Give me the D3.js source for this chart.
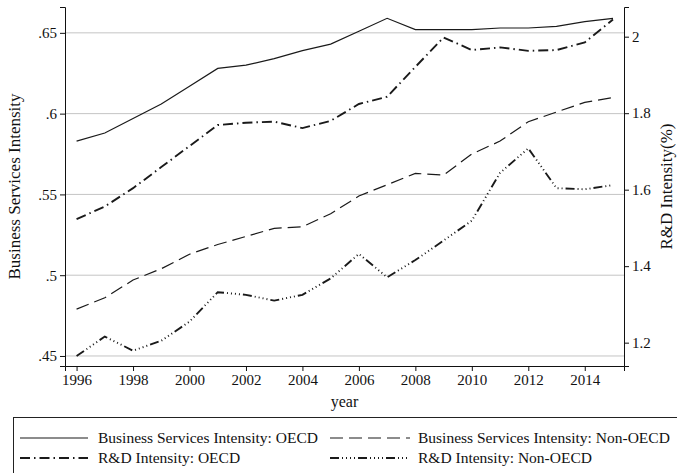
<!DOCTYPE html>
<html>
<head>
<meta charset="utf-8">
<script src="https://cdn.jsdelivr.net/npm/d3@7"></script>
<style>
  body { margin: 0; background: #fff; }
  svg { display: block; }
  .axis path, .axis line { stroke: #111; }
  .axis text { font-size: 15px; fill: #111; }
</style>
</head>
<body>
<div id="chart"></div>
<script>
const years = [1996, 1997, 1998, 1999, 2000, 2001, 2002, 2003, 2004, 2005,
  2006, 2007, 2008, 2009, 2010, 2011, 2012, 2013, 2014, 2015];
const bsOecd = [.583, .588, .597, .606, .617, .628, .630, .634, .639, .643,
  .651, .659, .652, .652, .652, .653, .653, .654, .657, .659];
const bsNonOecd = [.479, .486, .497, .504, .513, .519, .524, .529, .530, .538,
  .549, .556, .563, .562, .575, .583, .595, .601, .607, .610];
const rdOecd = [1.523, 1.556, 1.604, 1.659, 1.714, 1.769, 1.775, 1.778, 1.761, 1.780,
  1.824, 1.843, 1.921, 1.998, 1.965, 1.972, 1.963, 1.965, 1.985, 2.045];
const rdNonOecd = [1.165, 1.216, 1.179, 1.205, 1.255, 1.332, 1.325, 1.310, 1.325, 1.368,
  1.432, 1.371, 1.416, 1.467, 1.519, 1.644, 1.708, 1.604, 1.601, 1.612];
const xTicks = [1996, 1998, 2000, 2002, 2004, 2006, 2008, 2010, 2012, 2014];
const leftTicks = [.45, .5, .55, .6, .65];
const rightTicks = [1.2, 1.4, 1.6, 1.8, 2];

const series = [
  { name: "Business Services Intensity: OECD", values: bsOecd, axis: "left", dash: null, width: 1.2 },
  { name: "Business Services Intensity: Non-OECD", values: bsNonOecd, axis: "left", dash: "13,6", width: 1.2 },
  { name: "R&D Intensity: OECD", values: rdOecd, axis: "right", dash: "10,4,1.5,4", width: 1.9 },
  { name: "R&D Intensity: Non-OECD", values: rdNonOecd, axis: "right", dash: "9,3,1,3,1,3,1,3,1,3", width: 1.9 }
];

const FONT = "'Liberation Serif', 'Times New Roman', serif";
const W = 677, H = 473;
const m = { left: 65, right: 624, top: 7, bottom: 366 };

const svg = d3.select("#chart").append("svg")
  .attr("width", W).attr("height", H)
  .attr("font-family", FONT);

const x = d3.scaleLinear().domain([1995.59, 2015.39]).range([m.left, m.right]);
const yL = d3.scaleLinear().domain([.4438, .666]).range([m.bottom, m.top]);
const yR = d3.scaleLinear().domain([1.139, 2.0776]).range([m.bottom, m.top]);

// gridlines
svg.append("g")
  .selectAll("line")
  .data(leftTicks)
  .enter()
  .append("line")
  .attr("x1", m.left).attr("x2", m.right)
  .attr("y1", d => yL(d)).attr("y2", d => yL(d))
  .attr("stroke", "#c4c4c4").attr("stroke-width", 1);

// axes
svg.append("g").attr("class", "axis")
  .attr("transform", `translate(${m.left},0)`)
  .call(d3.axisLeft(yL).tickValues(leftTicks).tickSizeOuter(0).tickSize(5).tickPadding(3)
    .tickFormat(d => String(d).replace(/^0/, "")))
  .attr("font-family", FONT);

svg.append("g").attr("class", "axis")
  .attr("transform", `translate(${m.right},0)`)
  .call(d3.axisRight(yR).tickValues(rightTicks).tickSizeOuter(0).tickSize(5).tickPadding(3)
    .tickFormat(d => String(d)))
  .attr("font-family", FONT);

svg.append("g").attr("class", "axis")
  .attr("transform", `translate(0,${m.bottom})`)
  .call(d3.axisBottom(x).tickValues(xTicks).tickSizeOuter(0).tickSize(5).tickPadding(3)
    .tickFormat(d3.format("d")))
  .attr("font-family", FONT);

// titles
svg.append("text")
  .attr("transform", `translate(20,${(m.top + m.bottom) / 2}) rotate(-90)`)
  .attr("text-anchor", "middle")
  .attr("font-size", 17).attr("fill", "#111")
  .text("Business Services Intensity");

svg.append("text")
  .attr("transform", `translate(672,${(m.top + m.bottom) / 2}) rotate(-90)`)
  .attr("text-anchor", "middle")
  .attr("font-size", 17).attr("fill", "#111")
  .text("R&D Intensity(%)");

svg.append("text")
  .attr("x", (m.left + m.right) / 2).attr("y", 407)
  .attr("text-anchor", "middle")
  .attr("font-size", 16).attr("fill", "#111")
  .text("year");

// lines
series.forEach(s => {
  const ys = s.axis === "left" ? yL : yR;
  const line = d3.line()
    .x((d, i) => x(years[i]))
    .y(d => ys(d));
  svg.append("path")
    .datum(s.values)
    .attr("d", line)
    .attr("fill", "none")
    .attr("stroke", "#1a1a1a")
    .attr("stroke-width", s.width)
    .attr("stroke-dasharray", s.dash);
});

// legend
const lg = svg.append("g");
lg.append("rect")
  .attr("x", 13.5).attr("y", 417.5)
  .attr("width", 700).attr("height", 80)
  .attr("fill", "none").attr("stroke", "#222").attr("stroke-width", 1);

const cols = [20, 330];
const rows = [438, 458];
series.forEach((s, i) => {
  const cx = cols[i % 2], cy = rows[Math.floor(i / 2)];
  const len = i % 2 === 0 ? 68 : 80;
  lg.append("line")
    .attr("x1", cx).attr("x2", cx + len)
    .attr("y1", cy).attr("y2", cy)
    .attr("stroke", "#1a1a1a")
    .attr("stroke-width", s.width)
    .attr("stroke-dasharray", s.dash);
  lg.append("text")
    .attr("x", i % 2 === 0 ? 98 : 418).attr("y", cy + 5)
    .attr("font-size", 15.5).attr("fill", "#111")
    .text(s.name);
});
</script>
</body>
</html>
